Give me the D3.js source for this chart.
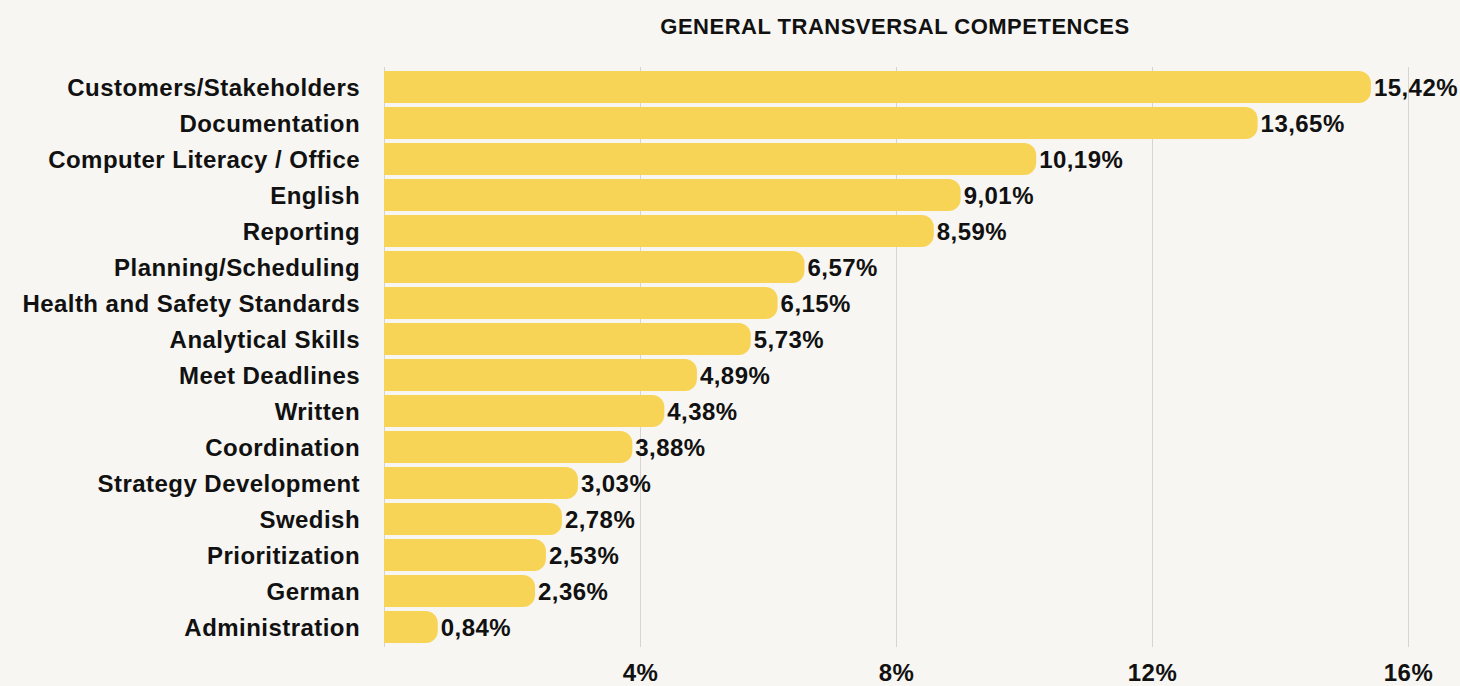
<!DOCTYPE html>
<html>
<head>
<meta charset="utf-8">
<script src="https://cdn.jsdelivr.net/npm/d3@7"></script>
<style>
  html, body { margin: 0; padding: 0; background: #f7f6f2; }
  svg { display: block; font-family: "Liberation Sans", Arial, Helvetica, sans-serif; }
</style>
</head>
<body>
<div id="chart"></div>
<script>
// datos
const categories = ['Customers/Stakeholders', 'Documentation', 'Computer Literacy / Office', 'English',
  'Reporting', 'Planning/Scheduling', 'Health and Safety Standards', 'Analytical Skills',
  'Meet Deadlines', 'Written', 'Coordination', 'Strategy Development', 'Swedish',
  'Prioritization', 'German', 'Administration'];
const values = [15.42, 13.65, 10.19, 9.01, 8.59, 6.57, 6.15, 5.73, 4.89, 4.38, 3.88, 3.03, 2.78, 2.53, 2.36, 0.84];
const gridValues = [0, 4, 8, 12, 16];
const tickValues = [4, 8, 12, 16];
const title = 'GENERAL TRANSVERSAL COMPETENCES';

const width = 1460;
const height = 686;
const barColor = '#f8d456';
const radius = 12;
const fontSize = 24;
const spacing = '0.45px';

const svg = d3.select('#chart')
  .append('svg')
  .attr('width', width)
  .attr('height', height);

const x = d3.scaleLinear()
  .domain([0, 16])
  .range([384, 1408]);

const y = d3.scaleBand()
  .domain(categories)
  .range([71, 643])
  .paddingInner(0.11)
  .paddingOuter(0);

const fmt = v => v.toFixed(2).replace('.', ',') + '%';

// titulo
svg.append('text')
  .attr('x', 895)
  .attr('y', 34)
  .attr('text-anchor', 'middle')
  .attr('font-size', 22)
  .attr('font-weight', 'bold')
  .attr('letter-spacing', '0.5px')
  .attr('fill', '#111')
  .text(title);

// lineas de la rejilla
svg.append('g')
  .attr('class', 'grid')
  .selectAll('line')
  .data(gridValues)
  .enter()
  .append('line')
  .attr('x1', d => x(d) + 0.5)
  .attr('x2', d => x(d) + 0.5)
  .attr('y1', 67)
  .attr('y2', 647)
  .attr('stroke', '#d6d5d1')
  .attr('stroke-width', 1);

// barras con la esquina derecha redondeada
function barPath(v, cat) {
  const x0 = x(0);
  const x1 = x(v);
  const y0 = y(cat);
  const h = y.bandwidth();
  const r = Math.min(radius, (x1 - x0), h / 2);
  return `M${x0},${y0} H${x1 - r} A${r},${r} 0 0 1 ${x1},${y0 + r} V${y0 + h - r} A${r},${r} 0 0 1 ${x1 - r},${y0 + h} H${x0} Z`;
}

const rows = svg.append('g').attr('class', 'bars')
  .selectAll('g')
  .data(categories)
  .enter()
  .append('g');

rows.append('path')
  .attr('d', (d, i) => barPath(values[i], d))
  .attr('fill', barColor);

rows.append('text')
  .attr('x', (d, i) => x(values[i]) + 3)
  .attr('y', d => y(d) + y.bandwidth() / 2)
  .attr('dy', '0.36em')
  .attr('font-size', fontSize)
  .attr('font-weight', 'bold')
  .attr('letter-spacing', spacing)
  .attr('fill', '#111')
  .text((d, i) => fmt(values[i]));

// etiquetas de categorias
rows.append('text')
  .attr('x', 360)
  .attr('y', d => y(d) + y.bandwidth() / 2)
  .attr('dy', '0.36em')
  .attr('text-anchor', 'end')
  .attr('font-size', fontSize)
  .attr('font-weight', 'bold')
  .attr('letter-spacing', spacing)
  .attr('fill', '#111')
  .text(d => d);

// eje x
const xAxis = d3.axisBottom(x)
  .tickValues(tickValues)
  .tickSize(0)
  .tickFormat(d => d + '%');

const axisG = svg.append('g')
  .call(xAxis);

axisG.select('.domain').remove();
axisG.selectAll('text')
  .attr('font-size', fontSize)
  .attr('font-weight', 'bold')
  .attr('font-family', '"Liberation Sans", Arial, sans-serif')
  .attr('letter-spacing', spacing)
  .attr('fill', '#111')
  .attr('dy', null)
  .attr('y', 681);
</script>
</body>
</html>
